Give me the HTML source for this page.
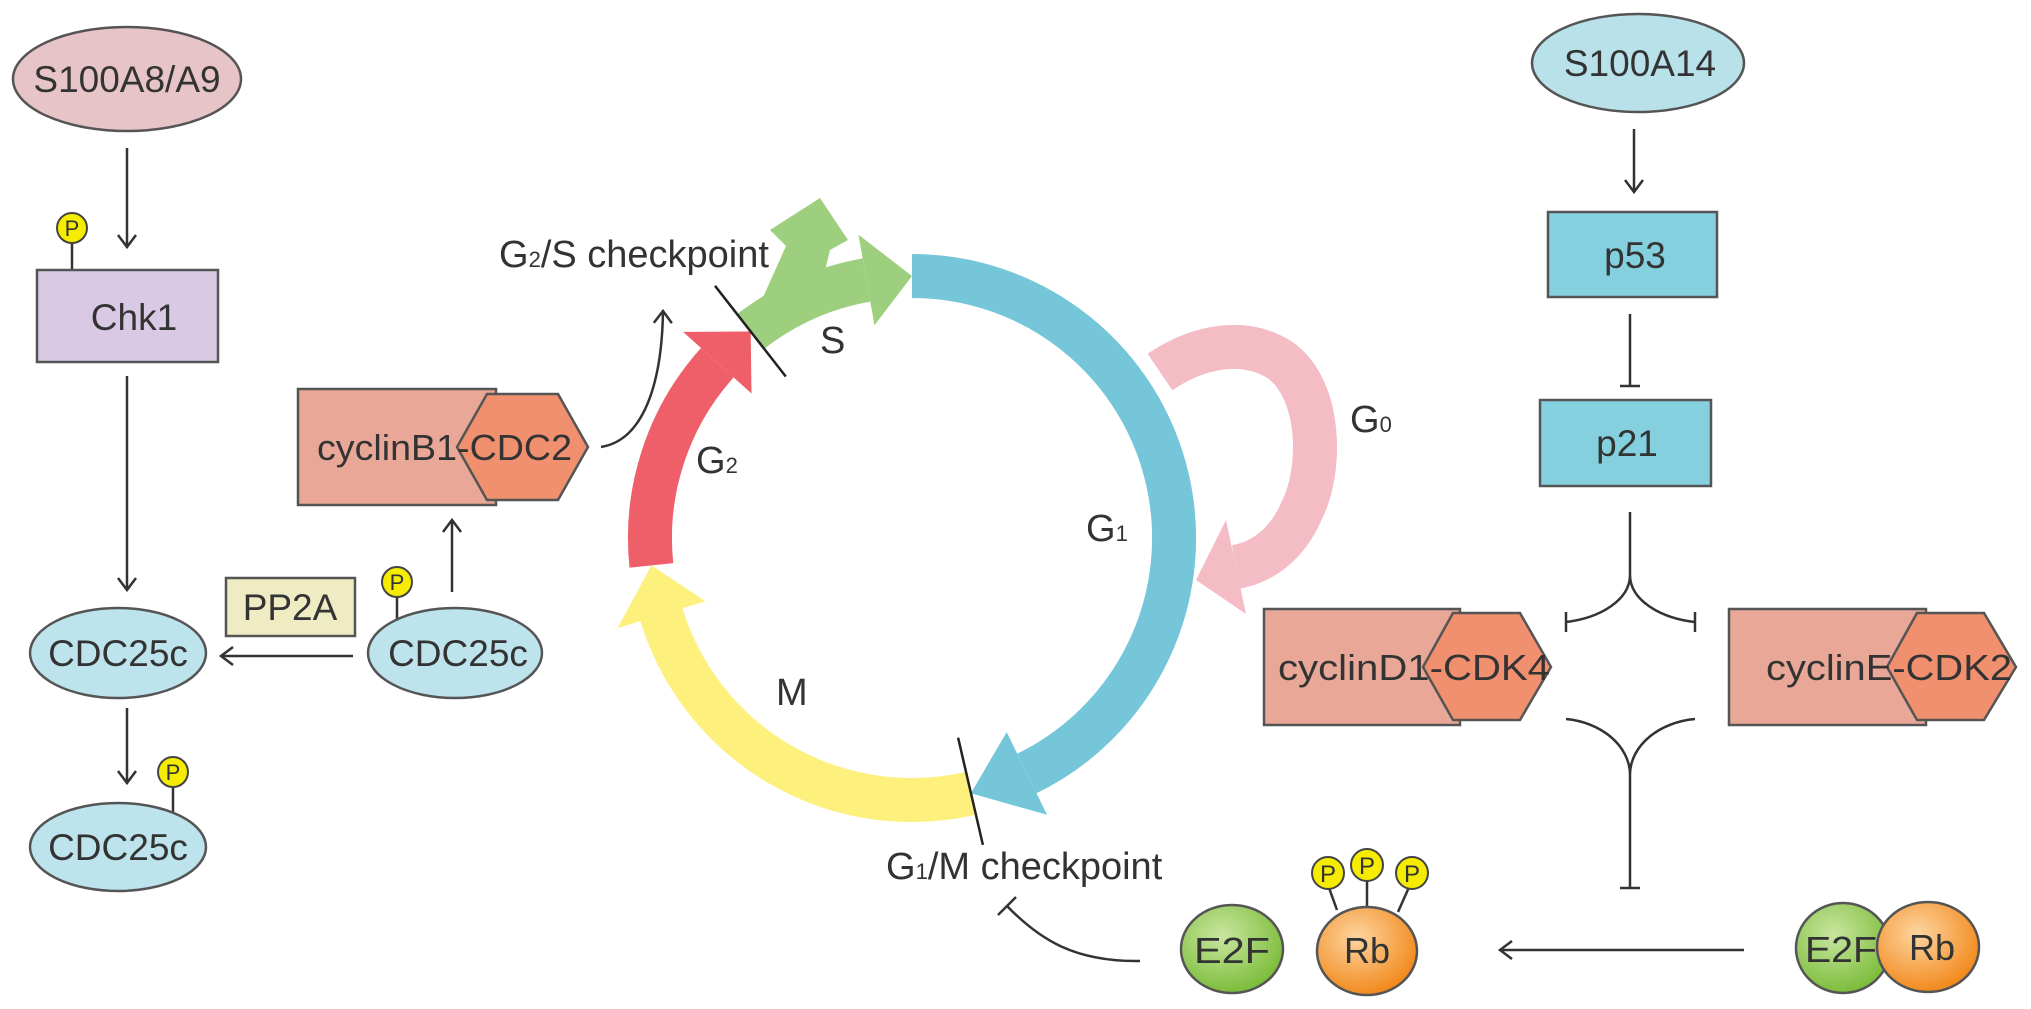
<!DOCTYPE html>
<html><head><meta charset="utf-8"><style>html,body{margin:0;padding:0;background:#fff}svg{display:block}</style></head>
<body>
<svg width="2031" height="1009" viewBox="0 0 2031 1009" xmlns="http://www.w3.org/2000/svg" font-family="Liberation Sans, sans-serif" fill="#333">
<defs>
<marker id="ah" markerWidth="20" markerHeight="20" refX="14" refY="10" orient="auto" markerUnits="userSpaceOnUse">
<path d="M2,1 L14,10 L2,19" fill="none" stroke="#333" stroke-width="2.5"/>
</marker>
<radialGradient id="gg" cx="40%" cy="35%" r="65%"><stop offset="0" stop-color="#c9e6a0"/><stop offset="1" stop-color="#7dbd3c"/></radialGradient>
<radialGradient id="og" cx="40%" cy="35%" r="65%"><stop offset="0" stop-color="#fdd5a0"/><stop offset="1" stop-color="#f28a1e"/></radialGradient>
</defs>
<g stroke="#333" stroke-width="2.5" fill="none">
<line x1="127" y1="148" x2="127" y2="247" marker-end="url(#ah)"/>
<line x1="127" y1="376" x2="127" y2="590" marker-end="url(#ah)"/>
<line x1="127" y1="708" x2="127" y2="783" marker-end="url(#ah)"/>
<line x1="353" y1="656" x2="221" y2="656" marker-end="url(#ah)"/>
<line x1="452" y1="592" x2="452" y2="520" marker-end="url(#ah)"/>
<path d="M601,447 C645,440 662,380 663,311" marker-end="url(#ah)"/>
<line x1="72" y1="240" x2="72" y2="270"/>
<line x1="397" y1="594" x2="397" y2="620"/>
<line x1="173" y1="784" x2="173" y2="812"/>
</g>
<ellipse cx="127" cy="79" rx="114" ry="52" fill="#e7c4c8" stroke="#555" stroke-width="2.5"/>
<text x="127" y="92" font-size="37" text-anchor="middle">S100A8/A9</text>
<rect x="37" y="270" width="181" height="92" fill="#d9c9e5" stroke="#555" stroke-width="2.5"/>
<text x="134" y="330" font-size="37" text-anchor="middle">Chk1</text>
<ellipse cx="118" cy="653" rx="88" ry="45" fill="#bde3ec" stroke="#555" stroke-width="2.5"/>
<text x="118" y="666" font-size="37" text-anchor="middle">CDC25c</text>
<rect x="226" y="578" width="129" height="58" fill="#efecc4" stroke="#555" stroke-width="2.5"/>
<text x="290" y="620" font-size="37" text-anchor="middle">PP2A</text>
<ellipse cx="455" cy="653" rx="87" ry="45" fill="#bde3ec" stroke="#555" stroke-width="2.5"/>
<text x="458" y="666" font-size="37" text-anchor="middle">CDC25c</text>
<ellipse cx="118" cy="847" rx="88" ry="44" fill="#bde3ec" stroke="#555" stroke-width="2.5"/>
<text x="118" y="860" font-size="37" text-anchor="middle">CDC25c</text>
<g stroke="#444" stroke-width="2" fill="#f5ec00">
<circle cx="72" cy="228" r="15"/><circle cx="397" cy="582" r="15"/><circle cx="173" cy="772" r="15"/>
</g>
<g font-size="22" text-anchor="middle" fill="#333">
<text x="72" y="236">P</text><text x="397" y="590">P</text><text x="173" y="780">P</text>
</g>
<rect x="298" y="389" width="198" height="116" fill="#e9a897" stroke="#555" stroke-width="2.5"/>
<polygon points="457,447 487,394 558,394 588,447 558,500 487,500" fill="#f1906f" stroke="#555" stroke-width="2.5"/>
<text x="317" y="460" font-size="36" textLength="255" lengthAdjust="spacingAndGlyphs">cyclinB1-CDC2</text>
<text x="499" y="267" font-size="38">G<tspan font-size="22">2</tspan>/S checkpoint</text>

<g fill="none" stroke-width="44">
<path d="M912,276 A262,262 0 0 1 1026.9,773.5" stroke="#74c6d8"/>
<path d="M970.9,793.3 A262,262 0 0 1 661.4,614.6" stroke="#fdf07c"/>
<path d="M651.4,565.4 A262,262 0 0 1 717.3,362.7" stroke="#ef5f69"/>
<path d="M750.7,331.5 A262,262 0 0 1 866.5,280.0" stroke="#9dcf7f"/>
<path d="M1160,372 C1200,345 1245,338 1280,360 C1322,390 1322,470 1302,510 C1287,545 1262,562 1236,567" stroke="#f4bcc5"/>
</g>
<polygon points="1006.7,732.1 1047.0,814.8 970.9,793.3" fill="#74c6d8"/>
<polygon points="705.4,601.2 617.5,628.1 651.4,565.4" fill="#fdf07c"/>
<polygon points="751.5,393.5 683.1,331.9 750.7,331.5" fill="#ef5f69"/>
<polygon points="874.5,325.3 858.5,234.7 912,276" fill="#9dcf7f"/>
<polygon points="752,322 786,246 770,230 820,198 848,240 830,250 820,292" fill="#9dcf7f"/>
<g stroke="#222" stroke-width="2.5">
<line x1="785.8" y1="376.5" x2="715" y2="285.8"/>
<line x1="958.1" y1="737.7" x2="982.9" y2="844.9"/>
</g>
<polygon points="1226,520 1246,614 1196,580" fill="#f4bcc5"/>
<g font-size="38">
<text x="820" y="353">S</text>
<text x="696" y="473">G<tspan font-size="22">2</tspan></text>
<text x="1086" y="541">G<tspan font-size="22">1</tspan></text>
<text x="1350" y="432">G<tspan font-size="22">0</tspan></text>
<text x="776" y="705">M</text>
<text x="886" y="879">G<tspan font-size="22">1</tspan>/M checkpoint</text>
</g>
<path d="M1140,961 C1075,962 1040,940 1007,906" fill="none" stroke="#333" stroke-width="2.5"/>
<line x1="998" y1="915" x2="1016" y2="897" stroke="#333" stroke-width="2.5"/>

<ellipse cx="1638" cy="63" rx="106" ry="49" fill="#b9e1ea" stroke="#555" stroke-width="2.5"/>
<text x="1640" y="76" font-size="37" text-anchor="middle">S100A14</text>
<line x1="1634" y1="129" x2="1634" y2="192" stroke="#333" stroke-width="2.5" marker-end="url(#ah)"/>
<rect x="1548" y="212" width="169" height="85" fill="#85d0de" stroke="#555" stroke-width="2.5"/>
<text x="1635" y="268" font-size="37" text-anchor="middle">p53</text>
<g stroke="#333" stroke-width="2.5" fill="none">
<line x1="1630" y1="314" x2="1630" y2="386"/><line x1="1620" y1="386" x2="1640" y2="386"/>
<path d="M1630,512 L1630,575 C1630,600 1600,618 1566,622 M1630,575 C1630,600 1660,618 1695,622"/>
<line x1="1566" y1="612" x2="1566" y2="632"/><line x1="1695" y1="612" x2="1695" y2="632"/>
<path d="M1566,719 C1600,722 1630,745 1630,775 L1630,888 M1695,719 C1660,722 1630,745 1630,775"/>
<line x1="1620" y1="888" x2="1640" y2="888"/>
<line x1="1744" y1="950" x2="1500" y2="950" marker-end="url(#ah)"/>
<line x1="1337" y1="910" x2="1328" y2="885"/><line x1="1367" y1="907" x2="1367" y2="878"/><line x1="1398" y1="912" x2="1410" y2="885"/>
</g>
<rect x="1540" y="400" width="171" height="86" fill="#85d0de" stroke="#555" stroke-width="2.5"/>
<text x="1627" y="456" font-size="37" text-anchor="middle">p21</text>
<rect x="1264" y="609" width="196" height="116" fill="#e9a897" stroke="#555" stroke-width="2.5"/>
<polygon points="1423,667 1453,613 1520,613 1551,667 1520,720 1453,720" fill="#f1906f" stroke="#555" stroke-width="2.5"/>
<text x="1278" y="680" font-size="36" textLength="272" lengthAdjust="spacingAndGlyphs">cyclinD1-CDK4</text>
<rect x="1729" y="609" width="197" height="116" fill="#e9a897" stroke="#555" stroke-width="2.5"/>
<polygon points="1887,667 1917,613 1984,613 2016,667 1984,720 1917,720" fill="#f1906f" stroke="#555" stroke-width="2.5"/>
<text x="1766" y="680" font-size="36" textLength="246" lengthAdjust="spacingAndGlyphs">cyclinE-CDK2</text>

<ellipse cx="1232" cy="949" rx="51" ry="44" fill="url(#gg)" stroke="#555" stroke-width="2.5"/>
<text x="1232" y="963" font-size="36" text-anchor="middle" textLength="76" lengthAdjust="spacingAndGlyphs">E2F</text>
<ellipse cx="1367" cy="951" rx="50" ry="44" fill="url(#og)" stroke="#555" stroke-width="2.5"/>
<text x="1367" y="963" font-size="36" text-anchor="middle">Rb</text>
<g stroke="#444" stroke-width="2" fill="#f5ec00">
<circle cx="1328" cy="873" r="16"/><circle cx="1367" cy="865" r="16"/><circle cx="1412" cy="873" r="16"/>
</g>
<g font-size="24" text-anchor="middle">
<text x="1328" y="882">P</text><text x="1367" y="874">P</text><text x="1412" y="882">P</text>
</g>
<ellipse cx="1843" cy="948" rx="47" ry="45" fill="url(#gg)" stroke="#555" stroke-width="2.5"/>
<ellipse cx="1928" cy="947" rx="51" ry="45" fill="url(#og)" stroke="#555" stroke-width="2.5"/>
<text x="1841" y="962" font-size="36" text-anchor="middle" textLength="72" lengthAdjust="spacingAndGlyphs">E2F</text>
<text x="1932" y="960" font-size="36" text-anchor="middle">Rb</text>
</svg>
</body></html>
